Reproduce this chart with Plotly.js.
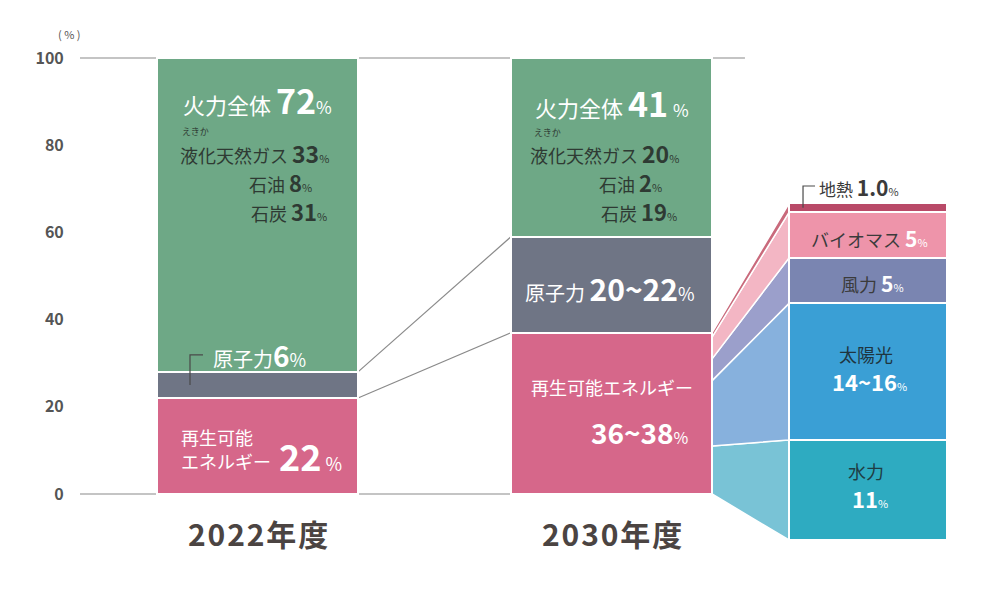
<!DOCTYPE html>
<html>
<head>
<meta charset="utf-8">
<script src="https://cdn.plot.ly/plotly-3.0.1.min.js"></script>
<style>
  html, body { margin: 0; padding: 0; background: #fff; }
  #chart { width: 994px; height: 589px; }
</style>
</head>
<body>
<div id="chart"></div>
<script>
// 電源構成 (%)
const years = ["2022年度", "2030年度"];
const sources = ["再生可能エネルギー", "原子力", "火力"];
const renewables = [22, 37];
const nuclear = [6, 22];
const thermal = [72, 41];
const srcColors = ["#d6678a", "#6f7585", "#6ea886"];

// 火力の内訳
const lng = [33, 20];
const oil = [8, 2];
const coal = [31, 19];

// 2030年度 再エネの内訳
const reNames = ["水力", "太陽光", "風力", "バイオマス", "地熱"];
const reValues = [11, 15, 5, 5, 1];
const reLabels = ["11", "14~16", "5", "5", "1.0"];
const reColors = ["#2eabc1", "#3a9fd5", "#7a85b1", "#ee94aa", "#b94a68"];
const reFills = ["#79c3d6", "#87b1dd", "#9b9fcb", "#f3b6c4", "#c96a7c"];

const yTicks = [0, 20, 40, 60, 80, 100];

// 配置
const xPos = [0, 1];
const xBreak = 1.7246;
const wMain = 0.568;
const wBreak = 0.4463;
const yRange = [-15.14, 104.13];
const y2Range = [-2.198, 54.945];
const FONT = "'Noto Sans CJK JP', 'Noto Sans', sans-serif";

// y2 の値を y の値に変換
function toY(v) {
  return yRange[0] + (v - y2Range[0]) / (y2Range[1] - y2Range[0]) * (yRange[1] - yRange[0]);
}

const traces = [];
[renewables, nuclear, thermal].forEach((vals, i) => {
  traces.push({
    type: "bar",
    x: xPos,
    y: vals,
    width: wMain,
    name: sources[i],
    marker: { color: srcColors[i], line: { color: "#fff", width: 2 } },
    hoverinfo: "name+y",
  });
});
reValues.forEach((v, i) => {
  traces.push({
    type: "bar",
    x: [xBreak],
    y: [v],
    yaxis: "y2",
    width: wBreak,
    name: reNames[i],
    marker: { color: reColors[i], line: { color: "#fff", width: 2 } },
    hoverinfo: "name+y",
  });
});

const shapes = [];
// 0 と 100 の線
shapes.push({ type: "line", layer: "below", xref: "x", yref: "y", x0: -0.5014, x1: 1.377, y0: 100, y1: 100, line: { color: "#8a8a8a", width: 1.2 } });
shapes.push({ type: "line", layer: "below", xref: "x", yref: "y", x0: -0.5014, x1: 1.284, y0: 0, y1: 0, line: { color: "#8a8a8a", width: 1.2 } });

// 2022 → 2030 の連結線
const c22 = [renewables[0], renewables[0] + nuclear[0]];
const c30 = [renewables[1], renewables[1] + nuclear[1]];
for (let k = 0; k < 2; k++) {
  shapes.push({
    type: "line", layer: "below", xref: "x", yref: "y",
    x0: xPos[0] + wMain / 2, y0: c22[k], x1: xPos[1] - wMain / 2, y1: c30[k],
    line: { color: "#8a8a8a", width: 1.2 },
  });
}

// 再エネ内訳への台形
let cum = 0;
const xl = xPos[1] + wMain / 2;
const xr = xBreak - wBreak / 2;
reValues.forEach((v, i) => {
  const a = cum, b = cum + v;
  shapes.push({
    type: "path", layer: "below", xref: "x", yref: "y",
    path: `M${xl},${a} L${xr},${toY(a)} L${xr},${toY(b)} L${xl},${b} Z`,
    fillcolor: reFills[i],
    line: { color: "#fff", width: 1.5 },
  });
  cum = b;
});

// 引き出し線
shapes.push({
  type: "path", layer: "above", xref: "x", yref: "y",
  path: `M-0.1907,${renewables[0] + nuclear[0] / 2} L-0.1907,31.9 L-0.154,31.9`,
  line: { color: "#4a4a4a", width: 1.2 },
});
shapes.push({
  type: "path", layer: "above", xref: "x", yref: "y2",
  path: `M1.541,${36.5} L1.541,38.9 L1.5749,38.9`,
  line: { color: "#4a4a4a", width: 1.2 },
});

const W = "#ffffff";
const D = "#2e3a33";
const G = "#3b3b3b";
function ann(x, y, text, size, color, xanchor, yref) {
  return {
    x: x, y: y, xref: "x", yref: yref || "y", text: text, showarrow: false,
    xanchor: xanchor || "center", yanchor: "middle", align: "left", borderpad: 0,
    font: { family: FONT, size: size, color: color },
  };
}
const big = (t, s) => `<span style="font-size:${s}px;font-weight:bold">${t}</span>`;
const pct = (s) => `<span style="font-size:${s}px">%</span>`;
const spaced = (t) => t.split("").join("\u200A");

const annotations = [
  // 2022
  ann(0.0, 90.4, `火力全体 ${big(thermal[0], 34)}${pct(17)}`, 22, W),
  ann(-0.216, 83.2, "えきか", 9, D, "left"),
  ann(-0.2218, 78.3, `液化天然ガス ${big(lng[0], 23)}${pct(11)}`, 18, D, "left"),
  ann(-0.027, 71.5, `石油 ${big(oil[0], 22)}${pct(11)}`, 18, D, "left"),
  ann(-0.021, 64.9, `石炭 ${big(coal[0], 22)}${pct(11)}`, 18, D, "left"),
  ann(-0.1285, 31.9, `原子力${big(nuclear[0], 28)}${pct(18)}`, 20, W, "left"),
  ann(-0.2189, 13.0, "再生可能", 18, W, "left"),
  ann(-0.2189, 7.6, "エネルギー", 18, W, "left"),
  ann(0.058, 8.9, `${big(renewables[0], 36)} ${pct(18)}`, 18, W, "left"),
  // 2030
  ann(1.0, 89.9, `火力全体 ${big(thermal[1], 34)} ${pct(17)}`, 22, W),
  ann(0.778, 83.0, "えきか", 9, D, "left"),
  ann(0.767, 78.3, `液化天然ガス ${big(lng[1], 23)}${pct(11)}`, 18, D, "left"),
  ann(0.962, 71.5, `石油 ${big(oil[1], 22)}${pct(11)}`, 18, D, "left"),
  ann(0.9675, 64.9, `石炭 ${big(coal[1], 22)}${pct(11)}`, 18, D, "left"),
  ann(0.996, 47.2, `原子力 ${big("20~22", 30)}${pct(18)}`, 20, W),
  ann(1.0, 24.5, "再生可能エネルギー", 18, W),
  ann(1.08, 14.2, `${big("36~38", 28)}${pct(16)}`, 18, W),
  // 内訳
  ann(1.583, 38.79, `地熱 ${big(reLabels[4], 21)}${pct(11)}`, 17, G, "left", "y2"),
  ann(1.730, 33.19, `バイオマス <span style="color:#fff">${big(reLabels[3], 21)}${pct(11)}</span>`, 18, G, "center", "y2"),
  ann(1.736, 28.24, `風力 <span style="color:#fff">${big(reLabels[2], 21)}${pct(11)}</span>`, 18, G, "center", "y2"),
  ann(1.719, 20.44, "太陽光", 18, "#1f3540", "center", "y2"),
  ann(1.73, 17.47, `${big(reLabels[1], 22)}${pct(11)}`, 18, W, "center", "y2"),
  ann(1.719, 7.58, "水力", 18, "#1f3d44", "center", "y2"),
  ann(1.73, 4.6, `${big(reLabels[0], 22)}${pct(11)}`, 18, W, "center", "y2"),
  // 年度
  ann(xPos[0], -8.94, `<b>${spaced(years[0])}</b>`, 30, "#4b4442"),
  ann(xPos[1], -8.94, `<b>${spaced(years[1])}</b>`, 30, "#4b4442"),
  {
    x: -0.0115, y: 1.0115, xref: "paper", yref: "paper", text: "( % )", showarrow: false,
    xanchor: "center", yanchor: "middle", font: { family: FONT, size: 11, color: "#555" },
  },
];

const layout = {
  width: 994,
  height: 589,
  margin: { l: 80, r: 44, t: 40, b: 29 },
  paper_bgcolor: "#fff",
  plot_bgcolor: "#fff",
  barmode: "stack",
  bargap: 0,
  showlegend: false,
  xaxis: { range: [-0.5014, 1.9562], showgrid: false, zeroline: false, showticklabels: false, fixedrange: true },
  yaxis: {
    range: yRange, tickvals: yTicks, showgrid: false, zeroline: false,
    ticks: "outside", ticklen: 12, tickcolor: "rgba(0,0,0,0)",
    tickfont: { family: FONT, size: 16, color: "#555", weight: "bold" },
  },
  yaxis2: { range: y2Range, overlaying: "y", visible: false, showgrid: false, zeroline: false },
  shapes: shapes,
  annotations: annotations,
};

Plotly.newPlot("chart", traces, layout, { displayModeBar: false, staticPlot: true });
</script>
</body>
</html>
